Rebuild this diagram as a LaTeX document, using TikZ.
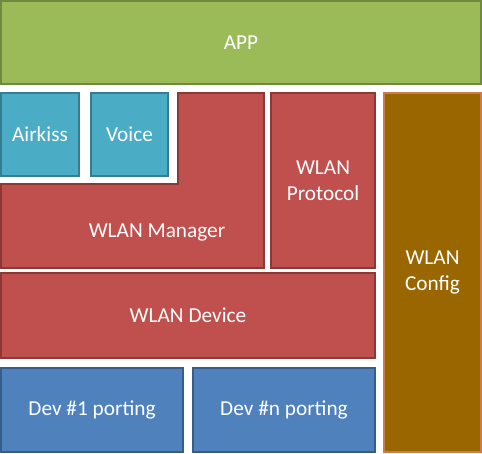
\documentclass[tikz,border=0pt]{standalone}
\usepackage{fontspec}
\setmainfont{Carlito}
\usepackage{tikz}
\usetikzlibrary{positioning}
\definecolor{appfill}{HTML}{9BBB59}
\definecolor{appline}{HTML}{71893F}
\definecolor{kissfill}{HTML}{4BACC6}
\definecolor{kissline}{HTML}{357D91}
\definecolor{wlanfill}{HTML}{C0504D}
\definecolor{wlanline}{HTML}{8C3836}
\definecolor{devfill}{HTML}{4F81BD}
\definecolor{devline}{HTML}{385D8A}
\definecolor{cfgfill}{HTML}{996600}
\definecolor{cfgline}{HTML}{C87D4B}
\tikzset{x = 1pt, y = -1pt,
         every node/.style = {text = white, align = center,
                              font = \fontsize{21.3}{26}\selectfont},
         block/.style = {draw, line width = 1.5pt, inner sep = 0pt},
         appbox/.style = {block, fill = appfill, draw = appline},
         kissbox/.style = {block, fill = kissfill, draw = kissline},
         wlanbox/.style = {block, fill = wlanfill, draw = wlanline},
         devbox/.style = {block, fill = devfill, draw = devline},
         cfgbox/.style = {block, fill = cfgfill, draw = cfgline}}

\begin{document}
\begin{tikzpicture}
        \useasboundingbox (0,0) rectangle (482,453);

        \node[appbox, minimum width = 480pt, minimum height = 83pt]  (app)   at (241,42.5)    {APP};
        \node[kissbox, minimum width = 78pt, minimum height = 83pt]  (kiss)  at (40,134.5)    {Airkiss};
        \node[kissbox, minimum width = 77pt, minimum height = 83pt]  (voice) at (129.5,134.5) {Voice};

        % L-shaped manager block
        \draw[wlanbox, line join = miter] (1,184) -- (178,184) -- (178,93) -- (264,93) -- (264,268) -- (1,268) -- cycle;
        \node                                                        (mgr)   at (157,232)     {WLAN Manager};

        \node[wlanbox, minimum width = 104pt, minimum height = 175pt] (proto) at (323,180.5)  {WLAN\\Protocol};
        \node[cfgbox, minimum width = 97pt, minimum height = 359pt]   (cfg)   at (432.5,272.5) {WLAN\\Config};
        \node[wlanbox, minimum width = 374pt, minimum height = 85pt]  (dev)   at (188,315.5)  {WLAN Device};
        \node[devbox, minimum width = 182pt, minimum height = 84pt]   (dev1)  at (92,410)     {Dev \#1 porting};
        \node[devbox, minimum width = 182pt, minimum height = 84pt]   (devn)  at (284,410)    {Dev \#n porting};
    \end{tikzpicture}
\end{document}
